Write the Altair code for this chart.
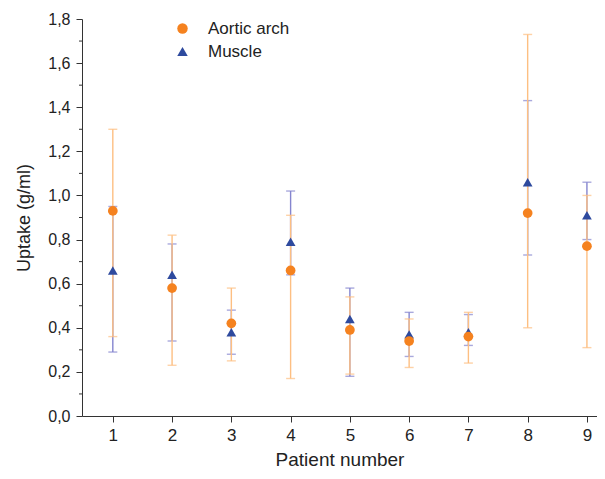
import altair as alt
import pandas as pd

patients = [1, 2, 3, 4, 5, 6, 7, 8, 9]
aortic = [0.93, 0.58, 0.42, 0.66, 0.39, 0.34, 0.36, 0.92, 0.77]
aortic_lo = [0.36, 0.23, 0.25, 0.17, 0.19, 0.22, 0.24, 0.40, 0.31]
aortic_hi = [1.30, 0.82, 0.58, 0.91, 0.54, 0.44, 0.47, 1.73, 1.00]
muscle = [0.66, 0.64, 0.38, 0.79, 0.44, 0.37, 0.38, 1.06, 0.91]
muscle_lo = [0.29, 0.34, 0.28, 0.64, 0.18, 0.27, 0.32, 0.73, 0.80]
muscle_hi = [0.95, 0.78, 0.48, 1.02, 0.58, 0.47, 0.46, 1.43, 1.06]
minor_ticks = [0.1, 0.3, 0.5, 0.7, 0.9, 1.1, 1.3, 1.5, 1.7]

rows = []
for i, p in enumerate(patients):
    rows.append({"patient": p, "series": "Muscle", "value": muscle[i], "lo": muscle_lo[i], "hi": muscle_hi[i]})
for i, p in enumerate(patients):
    rows.append({"patient": p, "series": "Aortic arch", "value": aortic[i], "lo": aortic_lo[i], "hi": aortic_hi[i]})
df = pd.DataFrame(rows)
minor_df = pd.DataFrame({"v": minor_ticks})

FONT = "Liberation Sans"
AX = "#333333"

xscale = alt.Scale(domain=[0.48, 9.17], nice=False, zero=False)
yscale = alt.Scale(domain=[0, 1.8], nice=False)

xenc = alt.X("patient:Q", scale=xscale,
             axis=alt.Axis(values=patients, title="Patient number", grid=False,
                           tickSize=6, labelFontSize=17, titleFontSize=19,
                           labelPadding=5, titlePadding=7, format="d",
                           titleFontWeight="normal"))
yenc = alt.Y("value:Q", scale=yscale,
             axis=alt.Axis(values=[0, 0.2, 0.4, 0.6, 0.8, 1.0, 1.2, 1.4, 1.6, 1.8],
                           title="Uptake (g/ml)", grid=False, tickSize=6,
                           labelFontSize=16, titleFontSize=18, labelPadding=6,
                           titlePadding=14, titleFontWeight="normal",
                           labelExpr="replace(format(datum.value, '.1f'), '.', ',')"))

base = alt.Chart(df)

def errlayer(series, color):
    d = base.transform_filter(alt.datum.series == series)
    rule = d.mark_rule(color=color, strokeWidth=1.4).encode(
        x=alt.X("patient:Q", scale=xscale), y=alt.Y("lo:Q", scale=yscale), y2="hi:Q")
    cap_lo = d.mark_tick(color=color, orient="horizontal", size=9, thickness=1.4).encode(
        x=alt.X("patient:Q", scale=xscale), y=alt.Y("lo:Q", scale=yscale))
    cap_hi = d.mark_tick(color=color, orient="horizontal", size=9, thickness=1.4).encode(
        x=alt.X("patient:Q", scale=xscale), y=alt.Y("hi:Q", scale=yscale))
    return [rule, cap_lo, cap_hi]

leg = alt.Legend(title=None, orient="none", legendX=92, legendY=1,
                 labelFontSize=17, labelFont=FONT, symbolSize=110,
                 rowPadding=5, labelOffset=17, labelColor="#222")

points = base.mark_point(filled=True, opacity=1, size=95).encode(
    x=xenc, y=yenc,
    color=alt.Color("series:N",
                    scale=alt.Scale(domain=["Aortic arch", "Muscle"], range=["#F5821F", "#2E4A9E"]),
                    legend=leg),
    shape=alt.Shape("series:N",
                    scale=alt.Scale(domain=["Aortic arch", "Muscle"], range=["circle", "triangle-up"]),
                    legend=leg),
)

minor = alt.Chart(minor_df).mark_rule(color=AX, strokeWidth=1).encode(
    y=alt.Y("v:Q", scale=yscale), x=alt.value(-3), x2=alt.value(0))

layers = errlayer("Muscle", "#8585CF") + errlayer("Aortic arch", "#FDBF82") + [points, minor]

chart = alt.layer(*layers).properties(
    width=515, height=397,
    autosize=alt.AutoSizeParams(type="none"),
    padding={"left": 74, "top": 11, "right": 0, "bottom": 56},
).configure_view(stroke=None).configure_axis(
    labelFont=FONT, titleFont=FONT, domainColor=AX, tickColor=AX,
    labelColor="#222", titleColor="#222", domainWidth=1, tickWidth=1
)

chart.save("out.html", embed_options={"renderer": "svg", "actions": False})
